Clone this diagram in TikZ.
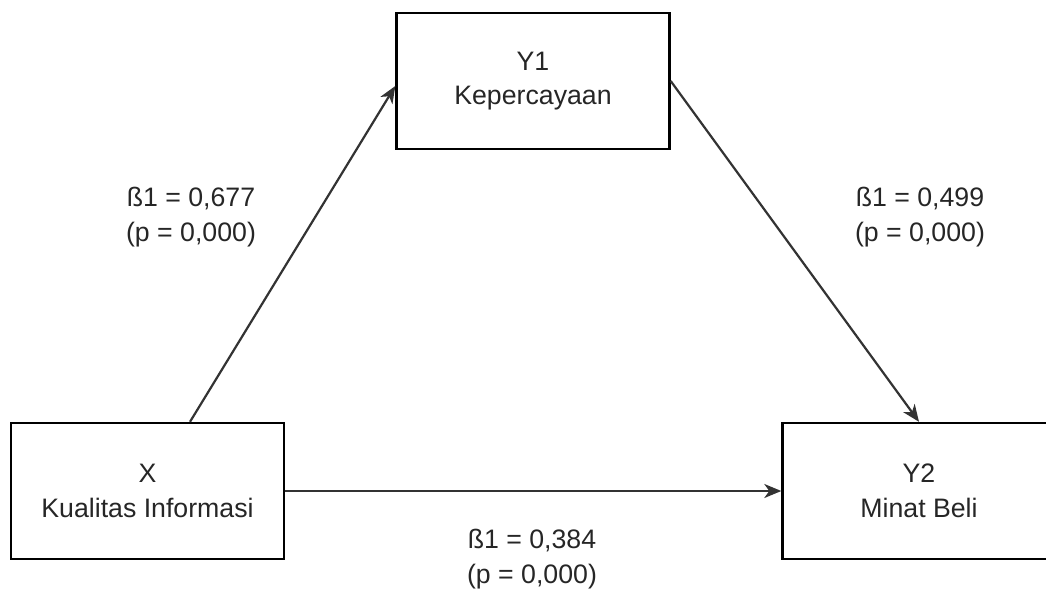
\documentclass[tikz,border=0pt]{standalone}
\usepackage{fontspec}
\setmainfont{Liberation Sans}
\usetikzlibrary{arrows.meta,calc}
\begin{document}
\begin{tikzpicture}[x=1pt,y=-1pt,
  every node/.style={font=\fontsize{26.7}{34.5}\selectfont, align=center, inner sep=0pt},
  varbox/.style={draw=black, line width=2.4pt, minimum width=273pt, minimum height=136pt},
  conn/.style={draw=black!80, line width=2.2pt, -{Stealth[length=17pt,width=14pt,inset=5pt]}},
  coef/.style={text=black!85}]
\useasboundingbox (0,0) rectangle (1046,589);
\node[varbox, text=black!85] (y1) at (533,81) {Y1\\Kepercayaan};
\node[varbox, text=black!85] (x) at (147.5,491) {X\\Kualitas Informasi};
\node[varbox, text=black!85] (y2) at (919,491) {Y2\\Minat Beli};
\draw[conn] ($(x.north)+(42.5,0)$) -- ($(y1.west)+(0,5)$);
\draw[conn] (y1.east) -- (y2.north);
\draw[conn] (x.east) -- (y2.west);
\node[coef] (l1) at (191,217) {ß1 = 0,677\\(p = 0,000)};
\node[coef] (l2) at (920,217) {ß1 = 0,499\\(p = 0,000)};
\node[coef] (l3) at (532,559) {ß1 = 0,384\\(p = 0,000)};
\end{tikzpicture}
\end{document}
